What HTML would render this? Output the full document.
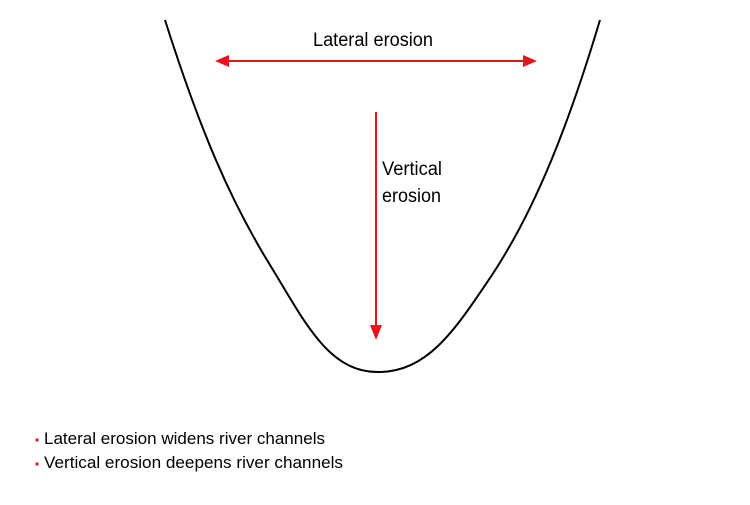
<!DOCTYPE html>
<html><head><style>body{margin:0;background:#fff}</style></head><body>
<svg width="750" height="500" xmlns="http://www.w3.org/2000/svg" font-family="Liberation Sans, sans-serif">
<path d="M165,20 C200,130 230,200 270,265 C305,322 328,372 378,372 C428,372 455,330 492,275 C537,207 570,120 600,20" fill="none" stroke="#000" stroke-width="2"/>
<line x1="226" y1="61" x2="526" y2="61" stroke="#e8141b" stroke-width="2"/>
<polygon points="215,61 229,55 229,67" fill="#e8141b"/>
<polygon points="537,61 523,55 523,67" fill="#e8141b"/>
<line x1="376" y1="112" x2="376" y2="328" stroke="#e8141b" stroke-width="2"/>
<polygon points="376,340 370,325 382,325" fill="#e8141b"/>
<text x="313" y="46" font-size="19" textLength="120" lengthAdjust="spacingAndGlyphs">Lateral erosion</text>
<text x="382" y="175" font-size="19" textLength="60" lengthAdjust="spacingAndGlyphs">Vertical</text>
<text x="382" y="202" font-size="19" textLength="59" lengthAdjust="spacingAndGlyphs">erosion</text>
<circle cx="37" cy="440" r="1.6" fill="#e8141b"/>
<circle cx="37" cy="464" r="1.6" fill="#e8141b"/>
<text x="44" y="444" font-size="17" textLength="281" lengthAdjust="spacingAndGlyphs">Lateral erosion widens river channels</text>
<text x="44" y="468" font-size="17" textLength="299" lengthAdjust="spacingAndGlyphs">Vertical erosion deepens river channels</text>
</svg>
</body></html>
